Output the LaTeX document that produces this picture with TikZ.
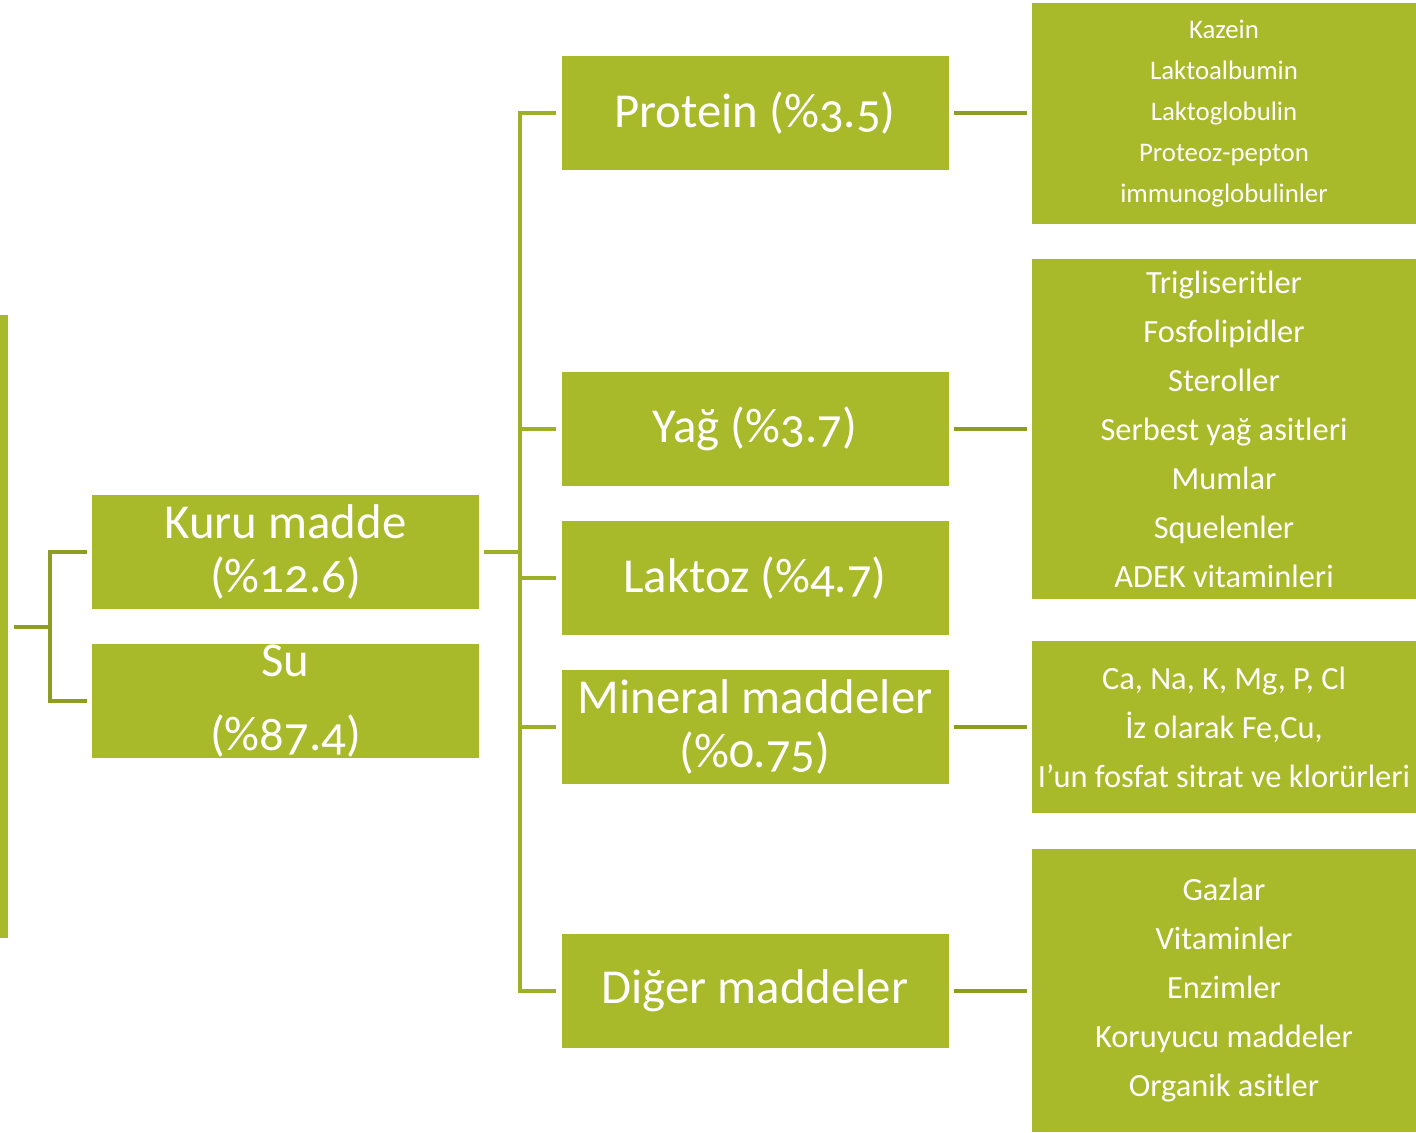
\documentclass[tikz,border=0pt]{standalone}
\usepackage{fontspec}
\setmainfont{Carlito}[Numbers=OldStyle]
\definecolor{boxgreen}{HTML}{A8B929}
\definecolor{spinegreen}{HTML}{9DB027}
\definecolor{darkline}{HTML}{8C9D22}
\begin{document}
\begin{tikzpicture}[x=0.5pt,y=-0.5pt,
  box/.style={fill=boxgreen, text=white, inner sep=0pt, align=center, minimum width=193.5pt, minimum height=57pt},
  detail/.style={fill=boxgreen, text=white, inner sep=0pt, align=center, minimum width=192pt},
  bigtxt/.style={font=\fontsize{24.4}{27}\selectfont},
  smalltxt/.style={font=\fontsize{13.4}{20.5}\selectfont},
  medtxt/.style={font=\fontsize{16.2}{24.5}\selectfont},
  conn/.style={line width=1.6pt, spinegreen, line join=miter},
  rconn/.style={line width=1.6pt, darkline, shorten <=2.5pt, shorten >=2.5pt},
  lconn/.style={line width=1.6pt, darkline}]
\useasboundingbox (0,0) rectangle (1416,1132);
% left bar
\node[fill=boxgreen, inner sep=0pt, minimum width=4pt, minimum height=311.5pt] (bar) at (4,626.5) {};
% level 1
\node[box, bigtxt] (kuru) at (285.5,552) {Kuru madde\\(\%12.6)};
\node[box, bigtxt] (su) at (285.5,701) {Su\\[10pt](\%87.4)};
% level 2
\node[box, bigtxt] (protein) at (755,113) {Protein (\%3.5)};
\node[box, bigtxt] (yag) at (755,429) {Yağ (\%3.7)};
\node[box, bigtxt] (laktoz) at (755,578) {Laktoz (\%4.7)};
\node[box, bigtxt] (mineral) at (755,727) {Mineral maddeler\\(\%0.75)};
\node[box, bigtxt] (diger) at (755,991) {Diğer maddeler};
% level 3
\node[detail, smalltxt, minimum height=110.5pt] (protd) at (1224,113.5)
  {Kazein\\Laktoalbumin\\Laktoglobulin\\Proteoz-pepton\\immunoglobulinler};
\node[detail, medtxt, minimum height=170pt] (yagd) at (1224,429)
  {Trigliseritler\\Fosfolipidler\\Steroller\\Serbest yağ asitleri\\Mumlar\\Squelenler\\ADEK vitaminleri};
\node[detail, medtxt, minimum height=86pt] (mind) at (1224,727)
  {Ca, Na, K, Mg, P, Cl\\İz olarak Fe,Cu,\\I’un fosfat sitrat ve klorürleri};
\node[detail, medtxt, minimum height=141.5pt] (digd) at (1224,990.5)
  {Gazlar\\Vitaminler\\Enzimler\\Koruyucu maddeler\\Organik asitler};
% left bracket
\coordinate (lb) at (50,627);
\draw[lconn, shorten <=3pt] (bar.east |- lb) -- (lb);
\draw[lconn, shorten <=2.5pt, shorten >=2.5pt] (kuru.west) -| (lb) |- (su.west);
% spine
\coordinate (sp) at (520,552);
\draw[conn, shorten <=2.5pt] (kuru.east) -- (sp);
\draw[conn, shorten <=2.5pt, shorten >=2.5pt] (protein.west) -| (sp) |- (diger.west);
\draw[conn, shorten >=2.5pt] (sp |- yag) -- (yag.west);
\draw[conn, shorten >=2.5pt] (sp |- laktoz) -- (laktoz.west);
\draw[conn, shorten >=2.5pt] (sp |- mineral) -- (mineral.west);
% right connectors
\draw[rconn] (protein.east) -- (protein.east -| protd.west);
\draw[rconn] (yag.east) -- (yag.east -| yagd.west);
\draw[rconn] (mineral.east) -- (mineral.east -| mind.west);
\draw[rconn] (diger.east) -- (diger.east -| digd.west);
\end{tikzpicture}
\end{document}
